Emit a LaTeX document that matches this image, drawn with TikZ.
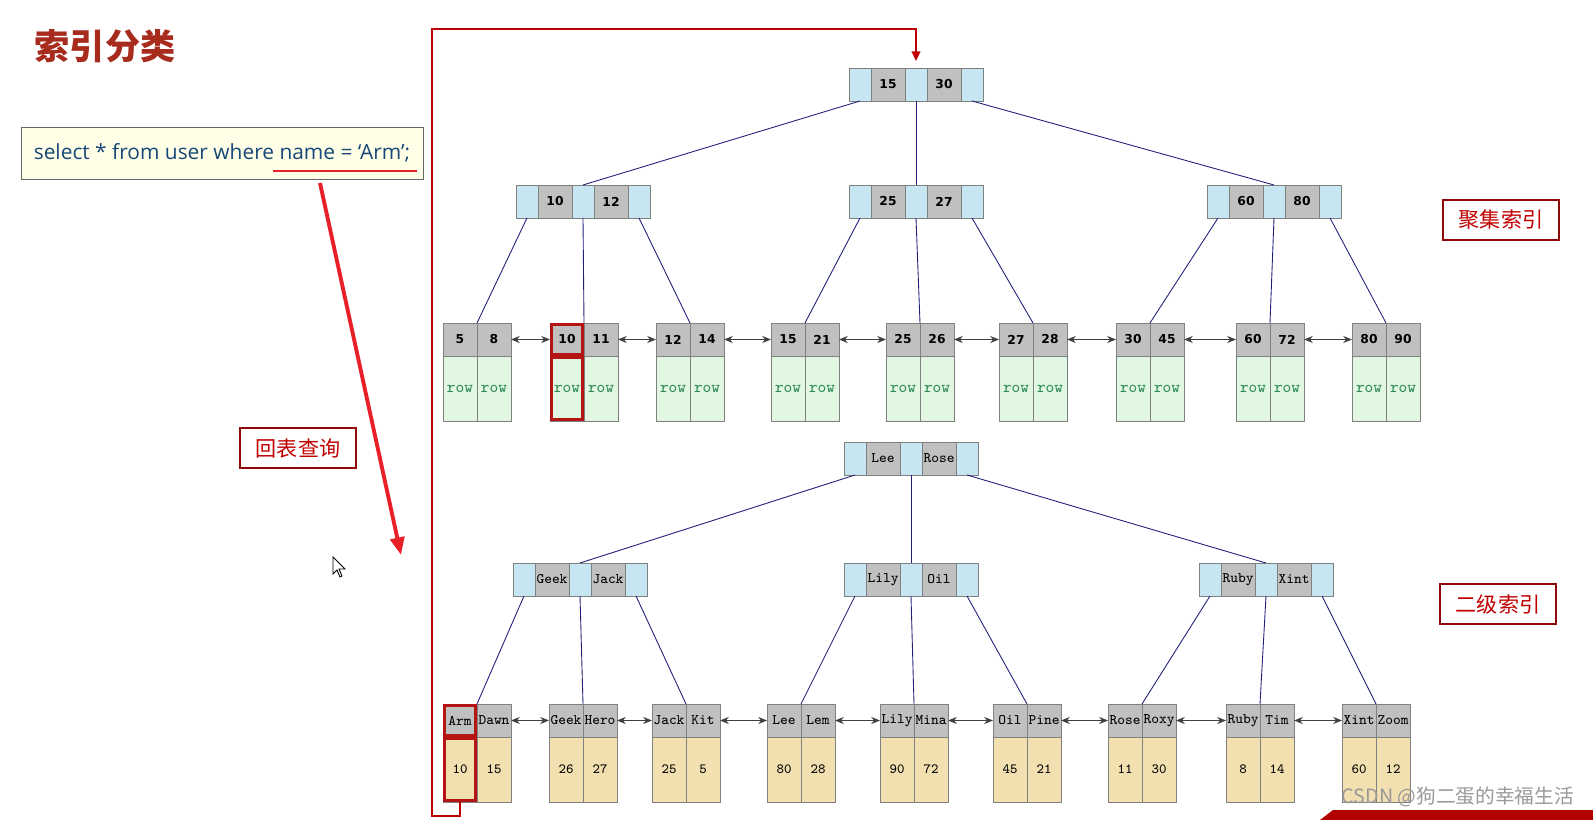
\documentclass[tikz,border=0pt]{standalone}
\usepackage{fontspec}
\newfontfamily\cjk{Noto Sans CJK SC}
\newfontfamily\vera{DejaVu Sans}
\newfontfamily\qfont{Open Sans}
\usetikzlibrary{arrows.meta,positioning}

\definecolor{ptrblue}{RGB}{198,230,242}
\definecolor{keygray}{RGB}{192,192,192}
\definecolor{cellline}{RGB}{128,128,128}
\definecolor{rowgreen}{RGB}{225,247,225}
\definecolor{rowtext}{RGB}{46,139,87}
\definecolor{valwheat}{RGB}{242,224,176}
\definecolor{treeline}{RGB}{32,32,122}
\definecolor{titlered}{RGB}{168,44,30}
\definecolor{labelred}{RGB}{192,0,0}
\definecolor{labelframe}{RGB}{140,10,10}
\definecolor{qyellow}{RGB}{255,255,232}
\definecolor{qblue}{RGB}{24,72,120}
\definecolor{markred}{RGB}{232,32,42}
\definecolor{hlred}{RGB}{180,20,20}

% one pixel of the reference
\newdimen\pxu \pxu=0.02cm

\tikzset{
  cell/.style={draw=cellline, line width=0.5pt, inner sep=0pt, outer sep=0pt, anchor=north west},
  ptrcell/.style={cell, fill=ptrblue, minimum width=22\pxu, minimum height=33\pxu},
  keycell/.style={cell, fill=keygray, minimum width=34\pxu, minimum height=33\pxu},
  ckey/.style={keycell, font=\vera\bfseries\fontsize{7}{8}\selectfont},
  skey/.style={keycell, font=\ttfamily\fontsize{8.3}{9}\selectfont},
  cdata/.style={cell, fill=rowgreen, minimum width=34\pxu, minimum height=65\pxu,
    text=rowtext, font=\ttfamily\fontsize{9.4}{10}\selectfont},
  sdata/.style={cell, fill=valwheat, minimum width=34\pxu, minimum height=65\pxu,
    font=\ttfamily\fontsize{8}{9}\selectfont},
  tline/.style={treeline, line width=0.5pt},
  link/.style={{Stealth[length=5pt,width=4pt]}-{Stealth[length=5pt,width=4pt]}, black!75, line width=0.6pt},
  hl/.style={draw=hlred, line width=1.6pt},
  tag/.style={draw=labelframe, line width=0.6pt, text=labelred, inner sep=0pt,
    font=\cjk\fontsize{12}{14}\selectfont, minimum width=116\pxu, minimum height=40\pxu},
}

% inner node: name, left x, top y, first key, second key, key style
\newcommand{\treenode}[6]{%
  \node[ptrcell] (#1-p1) at (#2,#3) {};
  \node[#6] (#1-k1) at (#1-p1.north east) {#4};
  \node[ptrcell] (#1-p2) at (#1-k1.north east) {};
  \node[#6] (#1-k2) at (#1-p2.north east) {#5};
  \node[ptrcell] (#1-p3) at (#1-k2.north east) {};
}
% leaf: name, left x, top y, keys, values, key style, value style
\newcommand{\leafnode}[9]{%
  \node[#8] (#1-k1) at (#2,#3) {#4};
  \node[#8] (#1-k2) at (#1-k1.north east) {#5};
  \node[#9] (#1-d1) at (#1-k1.south west) {#6};
  \node[#9] (#1-d2) at (#1-k2.south west) {#7};
}

\begin{document}
\begin{tikzpicture}[x=0.02cm, y=-0.02cm]
    \useasboundingbox (0,0) rectangle (1593,820);

    % Title and query
    \node[text=titlered, font=\cjk\bfseries\fontsize{20}{24}\selectfont] (title) at (105,46) {索引分类};
    \node[draw=black!60, fill=qyellow, minimum width=402\pxu, minimum height=52\pxu, inner sep=0pt,
      text=qblue, font=\qfont\fontsize{11.9}{14}\selectfont] (query) at (222,153) {select * from user where name = ‘Arm’;};
    \draw[markred, line width=1.2pt] (273,171) -- (417,171);

    % Clustered index
    \treenode{root}{849}{68}{15}{30}{ckey}
    \treenode{cl}{516}{185}{10}{12}{ckey}
    \treenode{cm}{849}{185}{25}{27}{ckey}
    \treenode{cr}{1207}{185}{60}{80}{ckey}
    \foreach \n/\x/\ka/\kb in {c1/443/5/8, c2/550/10/11, c3/656/12/14, c4/771/15/21, c5/886/25/26,
        c6/999/27/28, c7/1116/30/45, c8/1236/60/72, c9/1352/80/90}
      {\leafnode{\n}{\x}{323}{\ka}{\kb}{row}{row}{ckey}{cdata}}

    % Secondary index
    \treenode{sroot}{844}{442}{Lee}{Rose}{skey}
    \treenode{sl}{513}{563}{Geek}{Jack}{skey}
    \treenode{sm}{844}{563}{Lily}{Oil}{skey}
    \treenode{sr}{1199}{563}{Ruby}{Xint}{skey}
    \foreach \n/\x/\ka/\kb/\va/\vb in {s1/443/Arm/Dawn/10/15, s2/549/Geek/Hero/26/27, s3/652/Jack/Kit/25/5,
        s4/767/Lee/Lem/80/28, s5/880/Lily/Mina/90/72, s6/993/Oil/Pine/45/21,
        s7/1108/Rose/Roxy/11/30, s8/1226/Ruby/Tim/8/14, s9/1342/Xint/Zoom/60/12}
      {\leafnode{\n}{\x}{704}{\ka}{\kb}{\va}{\vb}{skey}{sdata}}

    % Tree lines
    \foreach \r/\a/\b/\c in {root/cl/cm/cr, sroot/sl/sm/sr} {
      \draw[tline] (\r-p1.south) -- (\a-p2.north);
      \draw[tline] (\r-p2.south) -- (\b-p2.north);
      \draw[tline] (\r-p3.south) -- (\c-p2.north);
    }
    \foreach \m/\a/\b/\c in {cl/c1/c2/c3, cm/c4/c5/c6, cr/c7/c8/c9, sl/s1/s2/s3, sm/s4/s5/s6, sr/s7/s8/s9} {
      \draw[tline] (\m-p1.south) -- (\a-k1.north east);
      \draw[tline] (\m-p2.south) -- (\b-k1.north east);
      \draw[tline] (\m-p3.south) -- (\c-k1.north east);
    }

    % Leaf links
    \foreach \i [evaluate=\i as \j using int(\i+1)] in {1,...,8} {
      \draw[link] (c\i-k2.east) -- (c\j-k1.west);
      \draw[link] (s\i-k2.east) -- (s\j-k1.west);
    }

    % Highlighted entries
    \foreach \c in {c2-k1, c2-d1, s1-k1, s1-d1}
      \draw[hl] ([shift={(1.5\pxu,-1.5\pxu)}]\c.north west) rectangle ([shift={(-1.5\pxu,1.5\pxu)}]\c.south east);

    % Labels
    \node[tag] (cluster) at (1501,220) {聚集索引};
    \node[tag] (second) at (1498,604) {二级索引};
    \node[tag] (lookup) at (298,448) {回表查询};

    % Query arrow and lookup back to the root
    \coordinate (q-from) at (320,183);
    \coordinate (q-to) at (401,555);
    \draw[markred, line width=2.2pt, -{Triangle[length=10pt,width=8pt]}] (q-from) -- (q-to);
    \coordinate (turn) at (432,29);
    \draw[labelred, line width=1.1pt, -{Triangle[length=5.5pt,width=5pt]}]
      (s1-d1.south) -- ++(0,14) -| (turn) -| ([yshift=7\pxu]root-p2.north);

    % Cursor, watermark and banner
    \draw[fill=white, line width=0.5pt] (333,557) -- (333,574) -- (337,570) -- (340,577) -- (342,576) -- (339,569) -- (345,569) -- cycle;
    \fill[red!70!black] (1320,820) -- (1333,810) -- (1593,810) -- (1593,820) -- cycle;
    \node[text=black!40, font=\cjk\fontsize{11.2}{13}\selectfont, anchor=east] (mark) at (1580,797) {CSDN @狗二蛋的幸福生活};
\end{tikzpicture}
\end{document}
